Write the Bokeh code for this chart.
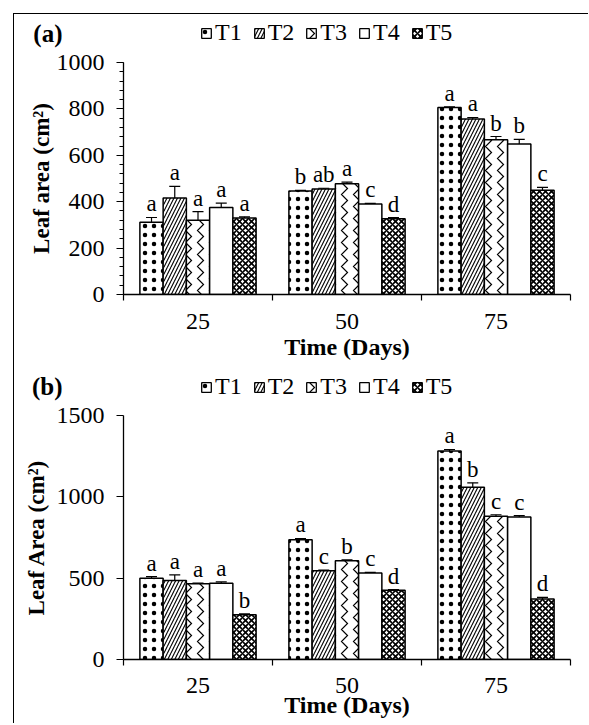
from bokeh.plotting import figure
from bokeh.models import (ColumnDataSource, Range1d, FixedTicker, Whisker, TeeHead,
                          Legend, LegendItem, LabelSet)
from bokeh.layouts import column
from bokeh.embed import file_html
from bokeh.resources import INLINE
from bokeh.transform import dodge

# ---------------- data ----------------
days = ["25", "50", "75"]
treatments = ["T1", "T2", "T3", "T4", "T5"]

# panel (a) leaf area (cm2)
a_T1 = [311, 446, 806]
a_T2 = [416, 455, 756]
a_T3 = [320, 477, 667]
a_T4 = [375, 390, 649]
a_T5 = [330, 326, 449]
a_err_T1 = [21, 3, 3]
a_err_T2 = [50, 3, 7]
a_err_T3 = [37, 7, 14]
a_err_T4 = [19, 3, 20]
a_err_T5 = [5, 5, 13]
a_let_T1 = ["a", "b", "a"]
a_let_T2 = ["a", "ab", "a"]
a_let_T3 = ["a", "a", "b"]
a_let_T4 = ["a", "c", "b"]
a_let_T5 = ["a", "d", "c"]

# panel (b) leaf area (cm2)
b_T1 = [500, 736, 1281]
b_T2 = [485, 545, 1059]
b_T3 = [465, 607, 880]
b_T4 = [469, 531, 876]
b_T5 = [275, 425, 372]
b_err_T1 = [10, 8, 10]
b_err_T2 = [35, 5, 27]
b_err_T3 = [5, 5, 10]
b_err_T4 = [8, 5, 8]
b_err_T5 = [5, 5, 10]
b_let_T1 = ["a", "a", "a"]
b_let_T2 = ["a", "c", "b"]
b_let_T3 = ["a", "b", "c"]
b_let_T4 = ["a", "c", "c"]
b_let_T5 = ["b", "d", "d"]

a_yticks = [0, 200, 400, 600, 800, 1000]
b_yticks = [0, 500, 1000, 1500]

# ---------------- styles ----------------
FONT = "Liberation Serif"
W = 574
BL = 109   # left border (frame left edge)
BR = 18    # right border
BAR_W = 0.156
OFFSETS = [-2 * BAR_W, -BAR_W, 0.0, BAR_W, 2 * BAR_W]

STYLES = [
    dict(fill_color="white", hatch_pattern=".", hatch_color="black", hatch_scale=9, hatch_weight=0.1),
    dict(fill_color="white", hatch_pattern="/", hatch_color="black", hatch_scale=7, hatch_weight=1.1),
    dict(fill_color="white", hatch_pattern=">", hatch_color="black", hatch_scale=12, hatch_weight=1.2),
    dict(fill_color="white"),
    dict(fill_color="white", hatch_pattern="x", hatch_color="black", hatch_scale=6, hatch_weight=1.6),
]


def make_sources(means, errs, lets):
    out = []
    for k in range(len(treatments)):
        out.append(ColumnDataSource(dict(
            x=list(range(len(days))),
            top=means[k],
            upper=[m + e for m, e in zip(means[k], errs[k])],
            lower=[m - e for m, e in zip(means[k], errs[k])],
            letter=lets[k],
        )))
    return out


def make_header(tag, sources, height, tag_y, tag_standoff, legend_loc):
    h = figure(width=W, height=height, x_range=Range1d(0, 1), y_range=Range1d(0, height),
               output_backend="svg", toolbar_location=None, x_axis_type=None,
               min_border_left=BL, min_border_right=BR, min_border_top=0, min_border_bottom=0)
    h.xgrid.visible = False
    h.ygrid.visible = False
    h.outline_line_color = None
    items = []
    for k, t in enumerate(treatments):
        r = h.vbar(x=dodge("x", OFFSETS[k]), top="top", bottom=0, width=BAR_W, source=sources[k],
                   line_color="black", line_width=1.3, **STYLES[k])
        r.visible = False
        items.append(LegendItem(label=t, renderers=[r]))
    legend = Legend(items=items, orientation="horizontal", location=legend_loc,
                    label_text_font=FONT, label_text_font_size="24px", label_text_color="black",
                    label_height=22, glyph_width=12, glyph_height=12, spacing=11, label_standoff=3,
                    padding=0, margin=0, border_line_color=None, background_fill_alpha=0,
                    inactive_fill_alpha=0)
    h.add_layout(legend)
    ya = h.yaxis[0]
    ya.ticker = FixedTicker(ticks=[tag_y], minor_ticks=[])
    ya.major_label_overrides = {tag_y: tag}
    ya.axis_line_color = None
    ya.major_tick_line_color = None
    ya.minor_tick_line_color = None
    ya.major_tick_out = 0
    ya.major_tick_in = 0
    ya.major_label_standoff = tag_standoff
    ya.major_label_text_font = FONT
    ya.major_label_text_font_style = "bold"
    ya.major_label_text_font_size = "25px"
    ya.major_label_text_color = "black"
    return h


def make_panel(ylabel, sources, ymax, yticks, minor, height, b_top, b_bottom,
               xtick_standoff, ylabel_standoff, xlabel_standoff):
    p = figure(width=W, height=height, x_range=Range1d(-0.5, 2.5), y_range=Range1d(0, ymax),
               output_backend="svg", toolbar_location=None,
               min_border_left=BL, min_border_right=BR,
               min_border_top=b_top, min_border_bottom=b_bottom)
    p.xgrid.visible = False
    p.ygrid.visible = False
    p.outline_line_color = None

    for k in range(len(treatments)):
        src = sources[k]
        p.vbar(x=dodge("x", OFFSETS[k]), top="top", bottom=0, width=BAR_W, source=src,
               line_color="black", line_width=1.5, **STYLES[k])
        p.add_layout(Whisker(source=src, base=dodge("x", OFFSETS[k]), upper="upper", lower="lower",
                             line_color="black", line_width=1.2,
                             upper_head=TeeHead(size=11, line_color="black", line_width=1.2),
                             lower_head=TeeHead(size=11, line_color="black", line_width=1.2)))
        p.add_layout(LabelSet(x=dodge("x", OFFSETS[k]), y="upper", text="letter", source=src,
                              y_offset=6, text_font=FONT, text_font_size="23px",
                              text_align="center", text_baseline="alphabetic",
                              text_color="black"))

    xa = p.xaxis[0]
    xa.ticker = FixedTicker(ticks=list(range(len(days))),
                            minor_ticks=[i - 0.5 for i in range(len(days) + 1)])
    xa.major_label_overrides = {i: d for i, d in enumerate(days)}
    xa.major_tick_out = 0
    xa.major_tick_in = 0
    xa.minor_tick_out = 6
    xa.minor_tick_in = 0
    xa.minor_tick_line_width = 1.2
    xa.axis_line_width = 1.3
    xa.major_label_standoff = xtick_standoff
    xa.major_label_text_font = FONT
    xa.major_label_text_font_size = "24px"
    xa.major_label_text_color = "black"
    xa.axis_label = "Time (Days)"
    xa.axis_label_text_font = FONT
    xa.axis_label_text_font_style = "bold"
    xa.axis_label_text_font_size = "24px"
    xa.axis_label_text_color = "black"
    xa.axis_label_standoff = xlabel_standoff

    ya = p.yaxis[0]
    ya.ticker = FixedTicker(ticks=yticks, minor_ticks=minor)
    ya.major_tick_out = 7
    ya.major_tick_in = 0
    ya.minor_tick_out = 4
    ya.minor_tick_in = 0
    ya.major_tick_line_width = 1.2
    ya.minor_tick_line_width = 1.0
    ya.axis_line_width = 1.3
    ya.major_label_standoff = 12
    ya.major_label_text_font = FONT
    ya.major_label_text_font_size = "24px"
    ya.major_label_text_color = "black"
    ya.axis_label = ylabel
    ya.axis_label_text_font = FONT
    ya.axis_label_text_font_style = "bold"
    ya.axis_label_text_font_size = "23px"
    ya.axis_label_text_color = "black"
    ya.axis_label_standoff = ylabel_standoff
    return p


src_a = make_sources([a_T1, a_T2, a_T3, a_T4, a_T5],
                     [a_err_T1, a_err_T2, a_err_T3, a_err_T4, a_err_T5],
                     [a_let_T1, a_let_T2, a_let_T3, a_let_T4, a_let_T5])
src_b = make_sources([b_T1, b_T2, b_T3, b_T4, b_T5],
                     [b_err_T1, b_err_T2, b_err_T3, b_err_T4, b_err_T5],
                     [b_let_T1, b_let_T2, b_let_T3, b_let_T4, b_let_T5])

ha = make_header("(a)", src_a, 36, 17, 61, (77, 4))
pa = make_panel("Leaf area (cm²)", src_a, 1000, a_yticks, list(range(0, 1001, 40)),
                315, 12, 71, 13, 0, 2)

hb = make_header("(b)", src_b, 36, 15, 61, (77, 1))
pb = make_panel("Leaf Area (cm²)", src_b, 1500, b_yticks, [],
                322, 14, 64, 12, 5, -4)

layout = column(ha, pa, hb, pb, margin=(13, 0, 0, 13),
                styles={"border-left": "1.5px solid black", "border-top": "1.5px solid black"})

open("out.html", "w").write(file_html(layout, INLINE))
